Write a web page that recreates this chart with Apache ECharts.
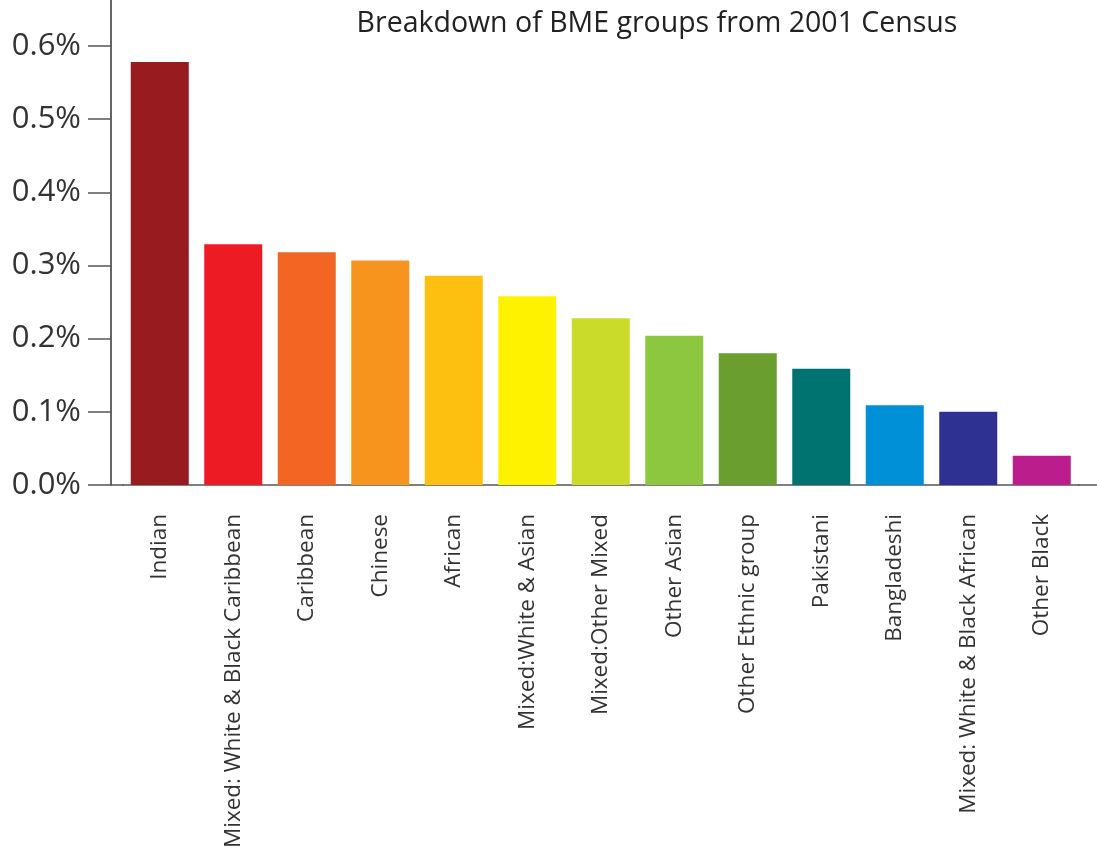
<!DOCTYPE html>
<html><head><meta charset="utf-8">
<script src="https://cdn.jsdelivr.net/npm/echarts@6/dist/echarts.min.js"></script>
<style>html,body{margin:0;padding:0;background:#fff}#c{width:1097px;height:849px}</style>
</head><body><div id="c"></div>
<script>
const categories = ["Indian","Mixed: White & Black Caribbean","Caribbean","Chinese","African","Mixed:White & Asian","Mixed:Other Mixed","Other Asian","Other Ethnic group","Pakistani","Bangladeshi","Mixed: White & Black African","Other Black"];
const values = [0.578,0.329,0.318,0.307,0.286,0.258,0.228,0.204,0.180,0.159,0.109,0.100,0.040];
const colors = ["#981B1F","#ED1C24","#F26522","#F7941D","#FDC010","#FFF200","#CBDB2A","#8DC63F","#6A9E2F","#007370","#0090D7","#2E3192","#BC1D8D"];
const yTicks = [0,0.1,0.2,0.3,0.4,0.5,0.6];
const titleText = "Breakdown of BME groups from 2001 Census";

const chart = echarts.init(document.getElementById('c'));
const font = "'Open Sans', 'Noto Sans', sans-serif";
chart.setOption({
  animation:false,
  title:{text:titleText,left:652,textAlign:'center',top:4,textStyle:{fontFamily:font,fontSize:28.5,fontWeight:'normal',color:'#222'}},
  grid:{left:123,top:0,width:955.5,height:485,containLabel:false,outerBoundsMode:'none'},
  xAxis:{type:'category',data:categories,
    axisLine:{lineStyle:{color:'#555',width:1.5}},
    axisTick:{alignWithLabel:true,length:18,lineStyle:{color:'#555',width:1.5}},
    axisLabel:{rotate:90,margin:29,fontFamily:font,fontSize:22.5,color:'#333',interval:0}},
  yAxis:{type:'value',min:0,max:0.6*485/439,offset:12,
    axisLine:{show:true,lineStyle:{color:'#333',width:1.5}},
    axisTick:{show:true,length:23,customValues:yTicks,lineStyle:{color:'#555',width:1.5}},
    axisLabel:{customValues:yTicks,margin:30,fontFamily:font,fontSize:31,color:'#333',formatter:v=>v.toFixed(1)+'%'},
    splitLine:{show:false}},
  series:[{type:'bar',barWidth:58,
    data:values.map((v,i)=>({value:v,itemStyle:{color:colors[i]}}))}],
  graphic:[
    {type:'line',shape:{x1:1078,y1:485,x2:1097,y2:485},style:{stroke:'#555',lineWidth:1.5},z:10},
    {type:'line',shape:{x1:111,y1:485,x2:124,y2:485},style:{stroke:'#555',lineWidth:1.5},z:10}
  ]
});
</script></body></html>
